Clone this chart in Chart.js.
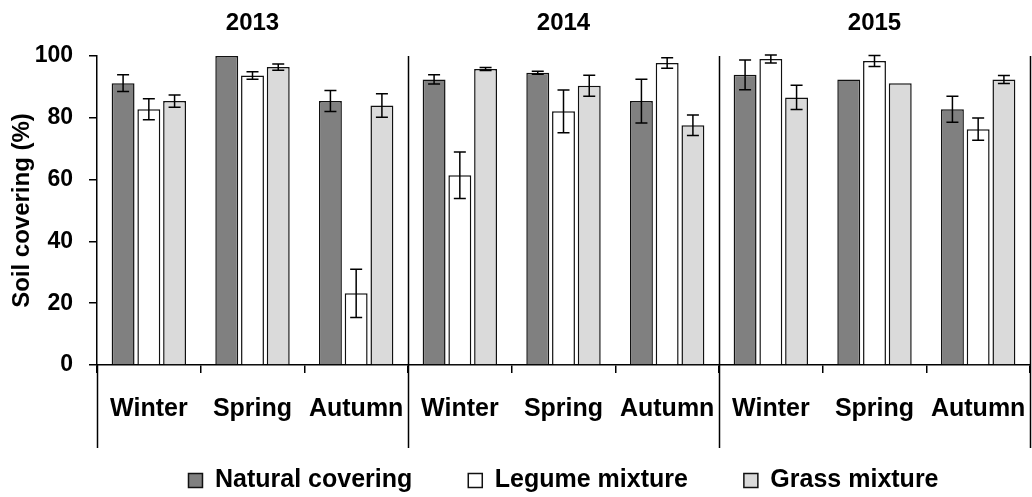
<!DOCTYPE html>
<html>
<head>
<meta charset="utf-8">
<script src="https://cdn.jsdelivr.net/npm/chart.js@4/dist/chart.umd.min.js"></script>
<style>
    html, body { margin: 0; padding: 0; background: #fff; }
</style>
</head>
<body>
<canvas id="graficoCobertura" width="1032" height="497"></canvas>
<script>
var anos = ["2013", "2014", "2015"];
var estacoes = ["Winter", "Spring", "Autumn", "Winter", "Spring", "Autumn", "Winter", "Spring", "Autumn"];

var natural = [91.2, 100, 85.4, 92.4, 94.6, 85.4, 93.9, 92.4, 82.8];
var naturalErro = [2.7, 0, 3.4, 1.5, 0.5, 7.1, 4.8, 0, 4.2];
var leguminosa = [82.8, 93.7, 23.2, 61.4, 82.1, 97.7, 99.0, 98.4, 76.3];
var leguminosaErro = [3.4, 1.2, 7.8, 7.5, 6.9, 1.7, 1.3, 1.8, 3.6];
var graminea = [85.4, 96.4, 84.0, 95.8, 90.4, 77.6, 86.6, 91.2, 92.4];
var gramineaErro = [2.0, 1.0, 3.8, 0.5, 3.4, 3.3, 3.9, 0, 1.3];

var yTicks = [0, 20, 40, 60, 80, 100];
var erros = [naturalErro, leguminosaErro, gramineaErro];

Chart.defaults.font.family = "'Liberation Sans', Arial, sans-serif";
Chart.defaults.font.weight = "bold";
Chart.defaults.color = "#000";

// barras de erro, separadores dos anos e titulos dos anos
var desenhoExtra = {
    id: "desenhoExtra",
    afterLayout: function (chart) {
        // sobe a legenda para junto dos rotulos (padding grande empurra para baixo)
        if (chart.legend) {
            chart.legend.top -= 13;
            chart.legend.height += 13;
        }
    },
    afterDatasetsDraw: function (chart) {
        var ctx = chart.ctx, y = chart.scales.y;
        ctx.save();
        ctx.strokeStyle = "#000";
        ctx.lineWidth = 1.5;
        chart.data.datasets.forEach(function (ds, d) {
            var meta = chart.getDatasetMeta(d);
            meta.data.forEach(function (bar, i) {
                var e = erros[d][i];
                if (!e) return;
                var y1 = y.getPixelForValue(ds.data[i] + e);
                var y2 = y.getPixelForValue(ds.data[i] - e);
                ctx.beginPath();
                ctx.moveTo(bar.x, y1); ctx.lineTo(bar.x, y2);
                ctx.moveTo(bar.x - 6, y1); ctx.lineTo(bar.x + 6, y1);
                ctx.moveTo(bar.x - 6, y2); ctx.lineTo(bar.x + 6, y2);
                ctx.stroke();
            });
        });
        ctx.restore();
    },
    afterDraw: function (chart) {
        var ctx = chart.ctx, area = chart.chartArea, x = chart.scales.x;
        var passo = (x.getPixelForTick(1) - x.getPixelForTick(0));
        var fundo = area.bottom + 83;
        ctx.save();
        ctx.strokeStyle = "#000";
        ctx.lineWidth = 1.5;
        [0, 3, 6, 9].forEach(function (k) {
            var px = Math.round(x.getPixelForTick(0) - passo / 2 + k * passo) + 0.5;
            if (px > chart.width - 1) px = chart.width - 1.5;
            ctx.beginPath();
            ctx.moveTo(px, k === 0 ? area.bottom : area.top);
            ctx.lineTo(px, fundo);
            ctx.stroke();
        });
        ctx.fillStyle = "#000";
        ctx.font = "bold 24px 'Liberation Sans', Arial, sans-serif";
        ctx.textAlign = "center";
        ctx.textBaseline = "middle";
        anos.forEach(function (ano, a) {
            var cx = x.getPixelForTick(a * 3 + 1);
            ctx.fillText(ano, cx, 23);
        });
        ctx.restore();
    }
};

new Chart(document.getElementById("graficoCobertura"), {
    type: "bar",
    data: {
        labels: estacoes,
        datasets: [{
                label: "Natural covering",
                data: natural,
                backgroundColor: "#808080",
                borderColor: "#111",
                borderWidth: 1.5
            }, {
                label: "Legume mixture",
                data: leguminosa,
                backgroundColor: "#ffffff",
                borderColor: "#111",
                borderWidth: 1.5
            }, {
                label: "Grass mixture",
                data: graminea,
                backgroundColor: "#dadada",
                borderColor: "#111",
                borderWidth: 1.5
            }]
    },
    options: {
        responsive: false,
        animation: false,
        categoryPercentage: 0.745,
        barPercentage: 0.89,
        layout: { padding: { top: 56, left: 0, right: 2, bottom: 0 } },
        plugins: {
            tooltip: { enabled: false },
            legend: {
                position: "bottom",
                fullSize: false,
                maxHeight: 72,
                labels: {
                    boxWidth: 14,
                    boxHeight: 14,
                    padding: 56,
                    color: "#000",
                    font: { size: 25, weight: "bold" }
                }
            }
        },
        scales: {
            x: {
                afterFit: function (s) {
                    s.height = 60;
                    s.paddingLeft = 0;
                    s.paddingRight = 0;
                },
                grid: { display: true, offset: true, drawOnChartArea: false, drawTicks: true, tickLength: 8, color: "#000", lineWidth: 1.5 },
                border: { display: true, color: "#000", width: 1.5 },
                ticks: { padding: 21, color: "#000", font: { size: 25, weight: "bold" }, maxRotation: 0, autoSkip: false }
            },
            y: {
                min: 0,
                max: 100,
                afterFit: function (s) { s.width = 97; },
                afterBuildTicks: function (s) { s.ticks = yTicks.map(function (v) { return { value: v }; }); },
                grid: { drawOnChartArea: false, drawTicks: true, tickLength: 8, color: "#000", lineWidth: 1.5 },
                border: { display: true, color: "#000", width: 1.5 },
                ticks: { padding: 16, color: "#000", font: { size: 23, weight: "bold" } },
                title: { display: true, text: "Soil covering (%)", color: "#000", font: { size: 24, weight: "bold" }, padding: { top: 8, bottom: 0 } }
            }
        }
    },
    plugins: [desenhoExtra]
});
</script>
</body>
</html>
